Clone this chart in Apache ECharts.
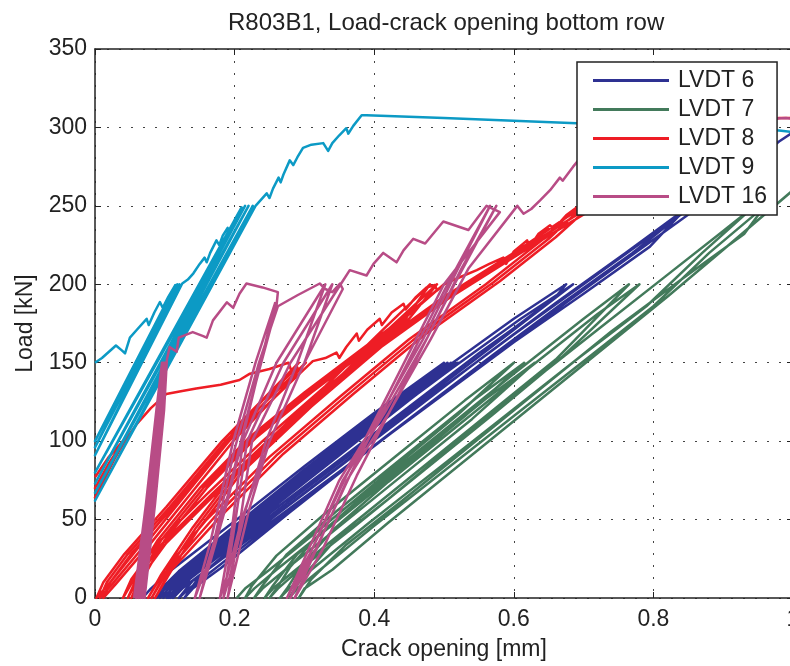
<!DOCTYPE html>
<html>
<head>
<meta charset="utf-8">
<script src="https://cdn.jsdelivr.net/npm/echarts@6/dist/echarts.min.js"></script>
<style>
html, body { margin: 0; padding: 0; background: #fff; }
#main { width: 790px; height: 666px; }
</style>
</head>
<body>
<div id="main"></div>
<script>
var seriesNames = ['LVDT 6', 'LVDT 7', 'LVDT 8', 'LVDT 9', 'LVDT 16'];
var seriesColors = ['#2E3192', '#437A5B', '#EE1D25', '#0C9AC5', '#B84C86'];

// crack opening [mm], load [kN]
var lvdt6 = [
	[0.068,0],[0.08,6],[0.11,18],[0.2,49],[0.3,84],[0.4,118],[0.5,150],
	[0.43,124],[0.33,89],[0.23,54],[0.15,25],[0.105,8],[0.088,0],
	[0.095,6],[0.12,17],[0.2,46],[0.3,82],[0.4,116],[0.505,150],
	[0.435,124],[0.335,89],[0.235,54],[0.155,25],[0.11,8],[0.093,0],
	[0.1,7],[0.13,19],[0.2,44],[0.3,80],[0.4,115],[0.51,150],
	[0.44,125],[0.34,90],[0.24,55],[0.16,26],[0.115,8],[0.098,0],
	[0.105,7],[0.135,19],[0.2,42],[0.3,78],[0.4,113],[0.515,150],
	[0.445,125],[0.345,90],[0.245,55],[0.165,26],[0.12,8],[0.103,0],
	[0.11,7],[0.14,19],[0.2,41],[0.3,77],[0.4,112],[0.52,150],
	[0.45,126],[0.35,91],[0.25,56],[0.17,26],[0.125,8],[0.108,0],
	[0.12,7],[0.15,18],[0.25,54],[0.35,88],[0.45,122],[0.55,156],[0.6,172],[0.66,192],[0.675,200],
	[0.6,178],[0.5,146],[0.4,113],[0.3,79],[0.2,45],[0.14,20],[0.115,6],[0.105,0],
	[0.118,6],[0.15,17],[0.25,52],[0.35,86],[0.45,120],[0.55,154],[0.65,188],[0.685,200],
	[0.61,178],[0.51,146],[0.41,113],[0.31,79],[0.21,45],[0.15,20],[0.125,6],[0.112,0],
	[0.125,6],[0.16,18],[0.26,53],[0.36,87],[0.46,121],[0.56,155],[0.66,188],[0.76,220],[0.84,246],[0.85,250],
	[0.795,224],[0.7,194],[0.6,163],[0.5,130],[0.4,97],[0.3,64],[0.2,31],[0.14,11],[0.12,0],
	[0.135,6],[0.17,18],[0.27,53],[0.37,87],[0.47,121],[0.57,155],[0.67,188],[0.77,220],[0.855,250],
	[0.8,232],[0.7,200],[0.6,168],[0.5,135],[0.4,101],[0.3,67],[0.2,33],[0.15,14],[0.128,0],
	[0.14,6],[0.18,19],[0.28,55],[0.38,90],[0.48,124],[0.58,157],[0.68,190],[0.78,222],[0.88,254],[0.98,291],[1.0,297]
];

var lvdt7 = [
	[0.203,0],[0.215,6],[0.25,18],[0.32,43],[0.42,80],[0.52,117],[0.6,150],
	[0.53,126],[0.43,90],[0.33,54],[0.26,27],[0.225,8],[0.215,0],
	[0.228,6],[0.26,18],[0.33,43],[0.43,79],[0.53,116],[0.615,150],
	[0.545,127],[0.445,91],[0.345,55],[0.275,28],[0.24,8],[0.228,0],
	[0.24,6],[0.27,17],[0.34,42],[0.44,78],[0.54,114],[0.63,150],
	[0.56,127],[0.46,91],[0.36,55],[0.29,28],[0.255,8],[0.243,0],
	[0.255,6],[0.285,17],[0.36,44],[0.46,80],[0.56,116],[0.66,152],[0.765,200],
	[0.7,178],[0.6,143],[0.5,107],[0.4,71],[0.32,40],[0.28,20],[0.26,6],[0.25,0],
	[0.262,6],[0.29,17],[0.37,45],[0.47,81],[0.57,117],[0.67,154],[0.78,200],
	[0.72,181],[0.62,146],[0.52,110],[0.42,74],[0.34,43],[0.295,20],[0.275,6],[0.265,0],
	[0.278,6],[0.31,18],[0.39,47],[0.49,82],[0.59,117],[0.69,152],[0.79,186],[0.87,220],[0.945,250],
	[0.9,234],[0.82,206],[0.72,171],[0.62,136],[0.52,100],[0.42,63],[0.34,35],[0.295,12],[0.278,0],
	[0.29,6],[0.32,17],[0.4,46],[0.5,81],[0.6,116],[0.7,151],[0.8,186],[0.88,220],[0.96,250],
	[0.93,232],[0.84,203],[0.74,170],[0.64,134],[0.54,98],[0.44,62],[0.36,34],[0.31,12],[0.292,0],
	[0.3,6],[0.34,18],[0.42,48],[0.52,84],[0.62,120],[0.72,156],[0.82,192],[0.9,222],[1.0,260]
];

var lvdt8 = [
	[0,77],[0.02,90],[0.04,100],[0,70],[0.02,86],[0.042,101],[0,64],[0.022,84],[0.044,101],
	[0.06,111],[0.08,121],[0.102,130],[0.125,132],[0.145,133.6],[0.18,136],[0.207,139],[0.222,143],
	[0.25,146],[0.277,150],[0.283,143],[0.29,147],
	[0.24,126],[0.18,96],[0.12,63],[0.06,31],[0.02,9],[0.002,0],
	[0.012,10],[0.042,28],[0.102,58],[0.182,100],[0.292,150],
	[0.25,128],[0.19,99],[0.13,66],[0.07,33],[0.025,9],[0.007,0],
	[0.017,10],[0.047,28],[0.107,58],[0.187,100],[0.302,150],
	[0.26,129],[0.2,101],[0.14,68],[0.08,35],[0.03,9],[0.012,0],
	[0.022,10],[0.052,28],[0.112,58],[0.192,100],[0.312,151],
	[0.33,153],[0.346,156.5],[0.35,153],[0.36,160],[0.375,168.6],[0.378,164],[0.39,171],[0.408,178],
	[0.411,174],[0.425,182],[0.442,187.6],[0.445,184],[0.46,192],[0.475,198],[0.487,199.5],[0.49,196],[0.499,199.5],
	[0.44,178],[0.38,158],[0.3,131],[0.22,102],[0.15,70],[0.09,37],[0.052,9],[0.04,0],
	[0.052,12],[0.09,35],[0.16,66],[0.24,100],[0.33,135],[0.41,170],[0.48,200],
	[0.445,178],[0.385,158],[0.305,131],[0.225,102],[0.155,70],[0.095,37],[0.058,9],[0.047,0],
	[0.059,12],[0.097,35],[0.167,66],[0.247,100],[0.337,135],[0.417,170],[0.49,200],
	[0.45,178],[0.39,158],[0.31,131],[0.23,102],[0.16,70],[0.1,37],[0.064,9],[0.052,0],
	[0.064,12],[0.102,35],[0.172,66],[0.252,100],[0.342,135],[0.422,170],[0.5,200],
	[0.52,204],[0.547,209],[0.565,213],[0.585,217],[0.589,213],[0.6,221],[0.619,228],[0.623,224],
	[0.635,232],[0.652,237.6],[0.657,235],[0.675,244],[0.69,249],
	[0.64,228],[0.56,200],[0.45,165],[0.35,128],[0.25,90],[0.16,50],[0.1,18],[0.076,0],
	[0.095,15],[0.14,45],[0.2,80],[0.3,122],[0.4,160],[0.5,192],[0.6,220],[0.7,250],
	[0.65,229],[0.57,201],[0.46,166],[0.36,129],[0.26,91],[0.17,51],[0.105,18],[0.081,0],
	[0.1,15],[0.145,45],[0.205,80],[0.305,122],[0.405,160],[0.505,192],[0.605,220],[0.71,250],
	[0.66,230],[0.58,202],[0.47,167],[0.37,130],[0.27,92],[0.18,52],[0.11,18],[0.086,0],
	[0.105,15],[0.15,45],[0.21,80],[0.31,122],[0.41,160],[0.51,192],[0.61,220],[0.72,250],
	[0.75,262],[0.8,276],[0.85,287],[0.9,296],[0.95,303],[0.98,306],[1.0,306]
];

var lvdt9 = [
	[0,150],[0.01,153],[0.02,157],[0.03,161],[0.038,158],[0.043,156],[0.05,166],[0.06,171],[0.074,178],
	[0.077,174],[0.085,182],[0.093,188.7],[0.097,185],[0.105,192],[0.115,199.5],
	[0,100],[0.118,200],[0,96],[0.121,200],[0,91],[0.125,200.5],
	[0.133,203],[0.141,207],[0.15,213],[0.157,217],[0.16,214],[0.165,220],[0.174,228],[0.178,225],
	[0.183,231],[0.19,236],[0.194,233],[0.2,241],[0.21,249],
	[0,80],[0.215,250],[0,73],[0.22,250],[0,67],[0.226,250],[0,62],[0.23,250],
	[0.238,254],[0.246,258],[0.25,255],[0.255,261],[0.263,268],[0.266,265],[0.27,270],[0.279,279],
	[0.284,276],[0.29,281],[0.298,287],[0.31,289],[0.327,290],[0.334,285],[0.34,290],[0.35,295],
	[0.36,299.5],[0.363,296],[0.37,301],[0.382,307.8],[0.389,307.8],[0.5,306],[0.69,302.6],
	[0.85,300],[0.98,298],[1.0,297]
];

var lvdt16 = [
	[0.056,0],[0.073,60],[0.088,120],[0.096,150],[0.087,110],[0.071,50],[0.059,0],
	[0.076,60],[0.091,120],[0.098,150],[0.089,110],[0.073,50],[0.062,0],
	[0.078,60],[0.093,120],[0.1,150],[0.091,110],[0.075,50],[0.065,0],
	[0.081,60],[0.095,120],[0.101,150],[0.093,110],[0.078,50],[0.068,0],
	[0.084,60],[0.097,120],[0.102,150],[0.095,110],[0.08,50],[0.071,0],
	[0.086,60],[0.099,120],[0.103,152],
	[0.107,160],[0.117,157],[0.12,166],[0.14,169.5],[0.155,167],[0.16,166],[0.169,177],[0.189,188.5],
	[0.198,185],[0.207,194],[0.217,200.5],[0.24,198],[0.262,195],[0.26,186],
	[0.22,120],[0.19,65],[0.16,20],[0.143,0],[0.165,35],[0.198,100],[0.23,150],[0.258,188],
	[0.22,118],[0.19,62],[0.162,18],[0.15,0],[0.17,35],[0.2,95],[0.235,150],[0.262,186],
	[0.29,193],[0.322,200.5],[0.33,197],[0.34,195],[0.351,200.5],[0.355,197],
	[0.3,150],[0.25,100],[0.21,50],[0.19,15],[0.179,0],[0.195,40],[0.212,100],[0.26,150],[0.33,200],
	[0.29,150],[0.245,100],[0.215,55],[0.194,15],[0.184,0],[0.198,40],[0.218,100],[0.27,150],[0.34,200],
	[0.3,150],[0.25,100],[0.22,55],[0.2,18],[0.19,0],[0.205,40],[0.225,100],[0.28,150],[0.352,200],
	[0.365,209],[0.389,205.6],[0.399,213],[0.413,220],[0.432,214],[0.442,221.6],[0.456,229],[0.473,226],
	[0.499,240],[0.535,234.6],[0.561,250],[0.58,246],
	[0.5,200],[0.42,130],[0.36,78],[0.31,30],[0.275,0],[0.3,25],[0.35,75],[0.41,118],[0.47,165],[0.52,210],[0.566,250],
	[0.505,200],[0.425,130],[0.365,78],[0.315,30],[0.28,0],[0.305,25],[0.355,75],[0.415,118],[0.475,165],[0.525,210],[0.575,250],
	[0.515,200],[0.435,130],[0.375,78],[0.325,30],[0.286,0],[0.311,25],[0.361,75],[0.421,118],[0.481,165],[0.535,210],[0.605,250],
	[0.614,245],[0.625,248],[0.638,253.6],[0.652,260],[0.666,268],[0.67,266],[0.685,275],[0.7,283],
	[0.75,290],[0.8,295],[0.85,300],[0.95,305],[0.99,306],[1.0,305.5]
];

var seriesData = [lvdt6, lvdt7, lvdt8, lvdt9, lvdt16];
var fontName = 'Liberation Sans, Arial, Helvetica, sans-serif';

var myChart = echarts.init(document.getElementById('main'));

var series = [];
for (var i = 0; i < seriesData.length; i++) {
	series.push({
		name: seriesNames[i],
		type: 'line',
		data: seriesData[i],
		showSymbol: false,
		symbol: 'none',
		clip: true,
		color: seriesColors[i],
		lineStyle: { width: 2.5, color: seriesColors[i], join: 'round' },
		animation: false
	});
}

var gridDots = { show: true, lineStyle: { type: [2, 10], color: '#444', width: 1 } };

var option = {
	animation: false,
	backgroundColor: '#fff',
	title: {
		text: 'R803B1, Load-crack opening bottom row',
		left: 228,
		top: 11,
		padding: 0,
		textStyle: { fontFamily: fontName, fontSize: 24, fontWeight: 'normal', color: '#222' }
	},
	legend: {
		data: seriesNames,
		orient: 'vertical',
		left: 577,
		top: 62,
		padding: [7, 10, 7, 16],
		itemGap: 6,
		itemWidth: 76,
		itemHeight: 3,
		icon: 'rect',
		backgroundColor: '#fff',
		borderColor: '#222',
		borderWidth: 1.5,
		borderRadius: 0,
		textStyle: { fontFamily: fontName, fontSize: 23, color: '#222', padding: [0, 0, 0, 4] }
	},
	grid: { left: 95, right: -3, top: 49, bottom: 68, containLabel: false, outerBoundsMode: 'none' },
	xAxis: [{
		type: 'value',
		min: 0, max: 1, interval: 0.2,
		name: 'Crack opening [mm]',
		nameLocation: 'middle',
		nameGap: 40,
		nameTextStyle: { fontFamily: fontName, fontSize: 23, color: '#222' },
		axisLine: { show: true, onZero: false, lineStyle: { color: '#222', width: 1.5 } },
		axisTick: { show: true, inside: true, length: 6, lineStyle: { color: '#222' } },
		axisLabel: { fontFamily: fontName, fontSize: 23, color: '#222', margin: 10 },
		splitLine: gridDots
	}, {
		type: 'value',
		position: 'top',
		min: 0, max: 1, interval: 0.2,
		axisLine: { show: true, onZero: false, lineStyle: { color: '#222', width: 1.5 } },
		axisTick: { show: true, inside: true, length: 6, lineStyle: { color: '#222' } },
		axisLabel: { show: false },
		splitLine: { show: false }
	}],
	yAxis: [{
		type: 'value',
		min: 0, max: 350, interval: 50,
		name: 'Load [kN]',
		nameLocation: 'middle',
		nameGap: 58,
		nameRotate: 90,
		nameTextStyle: { fontFamily: fontName, fontSize: 23, color: '#222' },
		axisLine: { show: true, onZero: false, lineStyle: { color: '#222', width: 1.5 } },
		axisTick: { show: true, inside: true, length: 6, lineStyle: { color: '#222' } },
		axisLabel: { fontFamily: fontName, fontSize: 23, color: '#222', margin: 8 },
		splitLine: gridDots
	}, {
		type: 'value',
		position: 'right',
		min: 0, max: 350, interval: 50,
		axisLine: { show: true, onZero: false, lineStyle: { color: '#222', width: 1.5 } },
		axisTick: { show: true, inside: true, length: 6, lineStyle: { color: '#222' } },
		axisLabel: { show: false },
		splitLine: { show: false }
	}],
	series: series
};
myChart.setOption(option);
</script>
</body>
</html>
